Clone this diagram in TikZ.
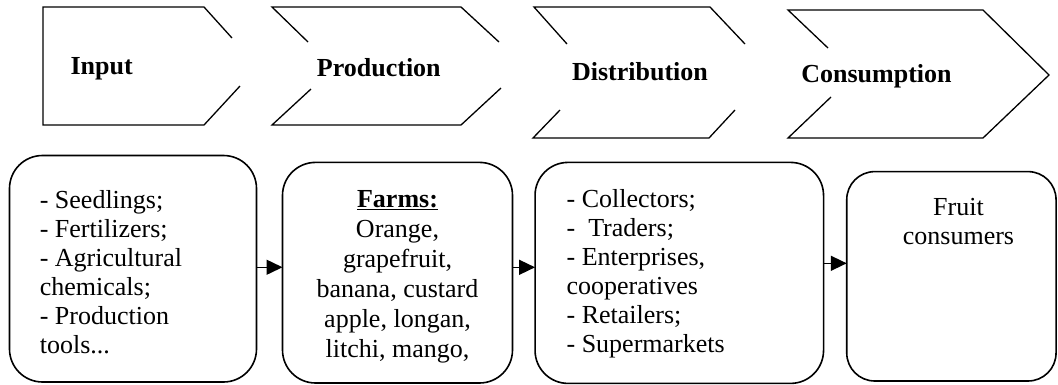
\documentclass[tikz,border=0pt]{standalone}
\usepackage{fontspec}
\setmainfont{Liberation Serif}
\usetikzlibrary{arrows.meta,positioning}

\begin{document}
\begin{tikzpicture}[
  x=1pt,y=-1pt,
  chev/.style={line width=1.3pt},
  head/.style={font=\fontsize{26}{29}\selectfont\bfseries,inner sep=0pt,anchor=base},
  panel/.style={draw,line width=1.6pt,rounded corners=33pt,inner sep=0pt,outer sep=0pt},
  body/.style={font=\fontsize{26}{29}\selectfont,inner sep=0pt},
  flow/.style={-{Triangle[length=16pt,width=15pt]},line width=1.5pt}]
  \useasboundingbox (0,0) rectangle (1058,384);
  % chain stages, open where the point would be
  \draw[chev] (232,38) -- (204,7) -- (43,7) -- (43,125) -- (204,125) -- (240,86);
  \draw[chev] (308,42) -- (272,7) -- (461,7) -- (499,42);
  \draw[chev] (311,89) -- (272,125) -- (461,125) -- (501,88);
  \draw[chev] (567,44) -- (534,7) -- (710,7) -- (745,44);
  \draw[chev] (560,110) -- (533,138) -- (709,138) -- (735,110);
  \draw[chev] (828,48) -- (788,10) -- (983,10) -- (1049,75) -- (983,138) -- (788,138) -- (831,97);
  \node[head] (inp) at (101.6,74) {Input};
  \node[head] (prod) at (378.8,76) {Production};
  \node[head] (dist) at (640,80) {Distribution};
  \node[head] (cons) at (876.5,82) {Consumption};
  % actors of each stage
  \node[panel,minimum width=247pt,minimum height=226.5pt] (inpbox) at (133,268.75) {};
  \node[panel,minimum width=230pt,minimum height=220.6pt] (prodbox) at (397.5,272.7) {};
  \node[panel,minimum width=288.5pt,minimum height=221pt] (distbox) at (679.3,272.9) {};
  \node[panel,rounded corners=28pt,minimum width=209.3pt,minimum height=209.4pt] (consbox) at (951.4,276.3) {};
  \node[body,anchor=north west,align=left] (inptxt) at (39.6,190) {- Seedlings;\\- Fertilizers;\\- Agricultural\\chemicals;\\- Production\\tools...};
  \node[body,font=\fontsize{26}{30}\selectfont,anchor=north,align=center] (prodtxt) at (397.5,190.5) {\underline{\textbf{Farms:}}\\Orange,\\grapefruit,\\banana, custard\\apple, longan,\\litchi, mango,};
  \node[body,anchor=north west,align=left] (disttxt) at (566.4,189) {- Collectors;\\-\ \ Traders;\\- Enterprises,\\cooperatives\\- Retailers;\\- Supermarkets};
  \node[body,anchor=north,align=center] (constxt) at (958.5,198) {Fruit\\consumers};
  \draw[flow] ([yshift=1.5pt]inpbox.east) -- ([yshift=1.5pt]inpbox.east -| prodbox.west);
  \draw[flow] ([yshift=5.4pt]prodbox.east) -- ([yshift=5.4pt]prodbox.east -| distbox.west);
  \draw[flow] ([yshift=9.6pt]distbox.east) -- ([yshift=9.6pt]distbox.east -| consbox.west);
\end{tikzpicture}
\end{document}
